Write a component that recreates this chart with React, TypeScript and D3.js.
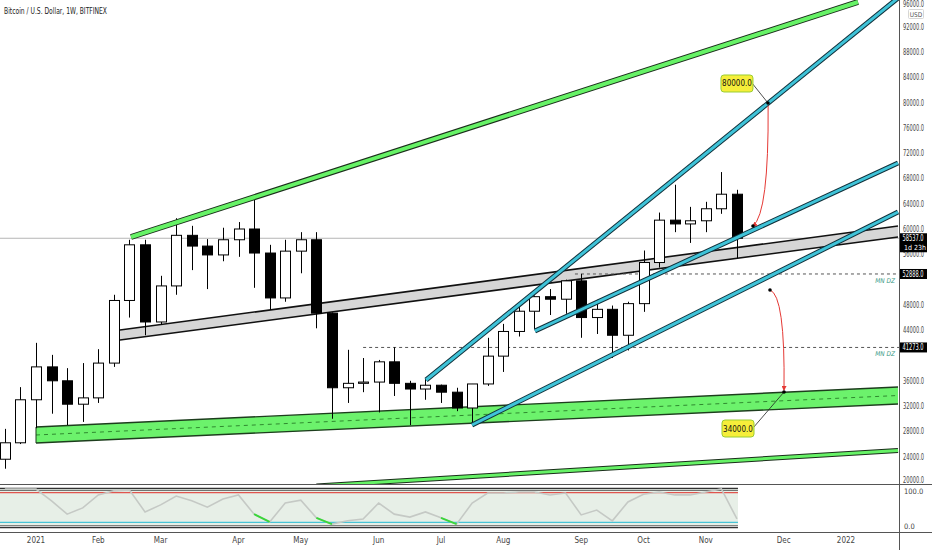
import React from 'react';
import * as d3 from 'd3';

const W = 932;
const H = 550;
const FONT = "'Liberation Sans Narrow','DejaVu Sans Condensed','Roboto Condensed',Arial,sans-serif";

// weekly bars, index 0 = week of 2021-01-04
const weekIdx = d3.range(-2, 46);
const opens = [23600, 26200, 33000, 38200, 36000, 32300, 33300, 38800, 48700, 57500, 45300, 51000, 59000, 57300, 55900, 58300, 60000, 56200, 49100, 56500, 58300, 46700, 34900, 35600, 35800, 39000, 35600, 34700, 35300, 34200, 31700, 35500, 39900, 43800, 47000, 49300, 48900, 51800, 46000, 47300, 43200, 48200, 54700, 61400, 60800, 61300, 63200, 65500];
const highs = [28400, 35000, 42000, 40100, 38000, 38800, 41000, 49600, 58300, 58300, 52600, 61700, 60500, 58400, 60200, 61100, 64700, 57500, 58300, 59500, 59500, 46800, 40900, 39600, 39300, 41300, 36000, 36400, 35400, 34900, 35500, 42800, 45000, 48100, 49500, 50500, 52000, 52900, 48800, 47900, 48500, 56600, 62600, 67000, 63500, 64300, 69000, 66200];
const lows = [22100, 26000, 28500, 30800, 29000, 29500, 32500, 38200, 46000, 43200, 44900, 49600, 53500, 50500, 54900, 55600, 50700, 47200, 48500, 53000, 44300, 30000, 32500, 34200, 31000, 33600, 29000, 33000, 32500, 31200, 29300, 35200, 37400, 43000, 44200, 46400, 46600, 42800, 43400, 39600, 40800, 46900, 53900, 59500, 57800, 59500, 62400, 55400];
const closes = [26200, 33000, 38200, 36000, 32300, 33300, 38800, 48700, 57500, 45300, 51000, 59000, 57300, 55900, 58300, 60000, 56200, 49100, 56500, 58300, 46700, 34900, 35600, 35800, 39000, 35600, 34700, 35300, 34200, 31700, 35500, 39900, 43800, 47000, 49300, 48900, 51800, 46000, 47300, 43200, 48200, 54700, 61400, 60800, 61300, 63200, 65500, 58537];

// oscillator (0-100) per weekly bar
const oscValues = [100, 100, 100, 68, 32, 49, 84, 95, 97, 38, 57, 81, 68, 51, 73, 84, 32, 11, 62, 70, 22, 5, 14, 19, 62, 32, 24, 38, 22, 5, 62, 89, 89, 92, 92, 84, 89, 30, 43, 14, 65, 86, 92, 84, 84, 92, 100, 19];
const oscGreenSegments = [[14, 15], [18, 19], [26, 27]];
const oscUpper = 90;
const oscLower = 10;

const monthLabels = ['2021', 'Feb', 'Mar', 'Apr', 'May', 'Jun', 'Jul', 'Aug', 'Sep', 'Oct', 'Nov', 'Dec', '2022'];
const monthIdx = [0, 4, 8, 13, 17, 22, 26, 30, 35, 39, 43, 48, 52];
const priceTicks = d3.range(20000, 96001, 4000);

// drawings in (bar index, price)
const grayBandTop = [[5.39, 44032], [55.34, 60474]];
const grayBandBottom = [[5.39, 42451], [55.34, 58735]];
const greenBandTop = [[0, 28696], [55.34, 35020]];
const greenBandBottom = [[0, 26166], [55.34, 32332]];
const greenTopLine = [[6.1, 58735], [52.77, 95889]];
const greenLowLine = [[18, 19368], [55.34, 24980]];
const cyanLines = [
  [[25.04, 36126], [55.34, 96522]],
  [[32.03, 43874], [55.34, 70435]],
  [[27.99, 29012], [55.34, 62688]],
];
const zoneLevels = [52888, 41273];
const zoneStart = [34.6, 21];
const lastPrice = 58537;
const callouts = [
  { label: '80000.0', i: 46.99, p: 79921 },
  { label: '34000.0', i: 48.02, p: 34229 },
];
const arrows = [
  { from: [47.0, 79500], ctrl: [47.05, 62500], to: [46.03, 60474] },
  { from: [47.12, 50356], ctrl: [48.1, 49500], to: [48.02, 34545] },
];

export default function App() {
  const x = d3.scaleLinear().domain([0, 52]).range([36, 846]);
  const y = d3.scaleLinear().domain([20000, 96000]).range([482, 1.3]);
  const yo = d3.scaleLinear().domain([0, 100]).range([526, 489]);
  const bw = 10;
  const axisX = 899;
  const oscEnd = x(45) + 1;

  const seg = (pts: number[][]) => ({ x1: x(pts[0][0]), y1: y(pts[0][1]), x2: x(pts[1][0]), y2: y(pts[1][1]) });
  const band = (top: number[][], bot: number[][]) =>
    `M${x(top[0][0])},${y(top[0][1])}L${x(top[1][0])},${y(top[1][1])}L${x(bot[1][0])},${y(bot[1][1])}L${x(bot[0][0])},${y(bot[0][1])}Z`;

  const oscLine = d3.line<number>().x((_, k) => x(weekIdx[k])).y((v) => yo(v));

  const gT = seg(grayBandTop), gB = seg(grayBandBottom);
  const eT = seg(greenBandTop), eB = seg(greenBandBottom);

  const boxLevels = [lastPrice, ...zoneLevels];
  const visibleTicks = priceTicks.filter((p) => boxLevels.every((b) => Math.abs(y(p) - y(b)) > 9 || (b === lastPrice && y(p) < y(b) - 7)));

  const tickY = (p: number) => {
    const v = y(p) + 3;
    return Math.min(Math.max(v, 7), 483);
  };

  return (
    <svg width={W} height={H} style={{ position: 'absolute', left: 0, top: 0, background: '#fff' }} fontFamily={FONT}>
      <defs>
        <clipPath id="main"><rect x={0} y={0} width={axisX} height={484} /></clipPath>
        <marker id="ah" viewBox="0 0 10 10" refX="8" refY="5" markerWidth="5" markerHeight="5" orient="auto">
          <path d="M0,0L10,5L0,10Z" fill="#e53935" />
        </marker>
      </defs>
      <rect width={W} height={H} fill="#fff" />
      <text x={4} y={14} fontSize={9} fill="#222" textLength={103} lengthAdjust="spacingAndGlyphs">Bitcoin / U.S. Dollar, 1W, BITFINEX</text>

      <g clipPath="url(#main)">
        <line x1={0} x2={axisX} y1={y(lastPrice)} y2={y(lastPrice)} stroke="#b5b5b5" strokeWidth={1} />
        <path d={band(grayBandTop, grayBandBottom)} fill="#d6d6d6" />
        <line {...gT} stroke="#111" strokeWidth={1.6} />
        <line {...gB} stroke="#111" strokeWidth={1.6} />
        <path d={band(greenBandTop, greenBandBottom)} fill="#6cf26c" />
        <line {...eT} stroke="#1d3d1d" strokeWidth={1.4} />
        <line {...eB} stroke="#1d3d1d" strokeWidth={1.4} />
        <line x1={(eT.x1 + eB.x1) / 2} y1={(eT.y1 + eB.y1) / 2} x2={(eT.x2 + eB.x2) / 2} y2={(eT.y2 + eB.y2) / 2} stroke="#2f8a2f" strokeWidth={1} strokeDasharray="4,4" />
        <line x1={eT.x1} y1={eT.y1} x2={eB.x1} y2={eB.y1} stroke="#1d3d1d" strokeWidth={1} />

        {zoneLevels.map((lv, k) => (
          <g key={lv}>
            <line x1={x(zoneStart[k])} x2={axisX} y1={y(lv)} y2={y(lv)} stroke="#555" strokeWidth={1} strokeDasharray="3,3" />
            <text x={895} y={y(lv) + 9} fontSize={6.5} fill="#3d9a86" textAnchor="end" fontStyle="italic">MN DZ</text>
          </g>
        ))}

        {weekIdx.map((w, k) => {
          const o = opens[k], c = closes[k];
          const up = c >= o;
          const cx = Math.round(x(w)) + 0.5;
          const top = y(Math.max(o, c)), bot = y(Math.min(o, c));
          return (
            <g key={w}>
              <line x1={cx} x2={cx} y1={y(highs[k])} y2={y(lows[k])} stroke="#000" strokeWidth={1} />
              <rect x={cx - bw / 2} y={top} width={bw} height={Math.max(1, bot - top)} fill={up ? '#fff' : '#000'} stroke="#000" strokeWidth={1} />
            </g>
          );
        })}

        {[greenTopLine, greenLowLine].map((l, k) => (
          <g key={'g' + k}>
            <line {...seg(l)} stroke="#1a2e1a" strokeWidth={k === 0 ? 6 : 5} />
            <line {...seg(l)} stroke="#66f266" strokeWidth={k === 0 ? 4 : 3} />
          </g>
        ))}
        {cyanLines.map((l, k) => (
          <g key={'c' + k}>
            <line {...seg(l)} stroke="#10303a" strokeWidth={5} />
            <line {...seg(l)} stroke="#3fc3d8" strokeWidth={3} />
          </g>
        ))}

        {arrows.map((a, k) => (
          <path key={'a' + k} d={`M${x(a.from[0])},${y(a.from[1])}Q${x(a.ctrl[0])},${y(a.ctrl[1])} ${x(a.to[0])},${y(a.to[1])}`} fill="none" stroke="#e53935" strokeWidth={1} markerEnd="url(#ah)" />
        ))}
        <circle cx={x(arrows[0].to[0])} cy={y(arrows[0].to[1])} r={1.8} fill="#000" />
        <circle cx={x(arrows[1].from[0])} cy={y(arrows[1].from[1])} r={1.8} fill="#000" />

        {callouts.map((c, k) => {
          const ax = x(c.i), ay = y(c.p);
          const bx = k === 0 ? ax - 47 : ax - 62;
          const by = k === 0 ? ay - 28 : ay + 28;
          return (
            <g key={c.label}>
              <line x1={bx + 31} y1={by + 8} x2={ax} y2={ay} stroke="#222" strokeWidth={0.8} />
              <circle cx={ax} cy={ay} r={1.8} fill="#000" />
              <rect x={bx} y={by} width={32} height={17} rx={3} fill="#f6ee3a" stroke="#9acd32" strokeWidth={1} />
              <text x={bx + 16} y={by + 11.5} fontSize={8} textAnchor="middle" fill="#111">{c.label}</text>
            </g>
          );
        })}
      </g>

      <line x1={0} x2={W} y1={484.5} y2={484.5} stroke="#555" strokeWidth={1} />
      <line x1={0} x2={W} y1={532.5} y2={532.5} stroke="#555" strokeWidth={1} />
      <line x1={axisX + 0.5} x2={axisX + 0.5} y1={0} y2={H} stroke="#555" strokeWidth={1} />

      <rect x={0} y={yo(100)} width={oscEnd} height={yo(0) - yo(100)} fill="#e7efe7" />
      <line x1={0} x2={oscEnd} y1={488.3} y2={488.3} stroke="#333" strokeWidth={1.2} />
      <line x1={0} x2={oscEnd} y1={490.3} y2={490.3} stroke="#555" strokeWidth={1} />
      <line x1={0} x2={oscEnd} y1={525.8} y2={525.8} stroke="#555" strokeWidth={1} />
      <line x1={0} x2={oscEnd} y1={527.6} y2={527.6} stroke="#333" strokeWidth={1.2} />
      <line x1={0} x2={oscEnd} y1={yo(oscUpper)} y2={yo(oscUpper)} stroke="#e0554f" strokeWidth={1.3} />
      <line x1={0} x2={oscEnd} y1={yo(oscLower)} y2={yo(oscLower)} stroke="#47c3d6" strokeWidth={1.3} />
      <path d={oscLine(oscValues) || ''} fill="none" stroke="#c5c9c5" strokeWidth={1.6} />
      {oscGreenSegments.map(([a, b]) => (
        <line key={a} x1={x(a)} y1={yo(oscValues[a + 2])} x2={x(b)} y2={yo(oscValues[b + 2])} stroke="#3ad63a" strokeWidth={1.8} />
      ))}

      {visibleTicks.map((p) => (
        <text key={p} x={903} y={tickY(p)} fontSize={8} fill="#444" textLength={21} lengthAdjust="spacingAndGlyphs">{p.toFixed(1)}</text>
      ))}
      <rect x={908.5} y={9.5} width={15} height={9} fill="#fff" stroke="#ccc" strokeWidth={0.8} rx={1} />
      <text x={916} y={16.5} fontSize={6.5} fill="#555" textAnchor="middle">USD</text>

      <rect x={900} y={y(lastPrice) - 5} width={27} height={19} fill="#000" />
      <text x={902.5} y={y(lastPrice) + 3} fontSize={8} fill="#fff" textLength={21} lengthAdjust="spacingAndGlyphs">{lastPrice.toFixed(1)}</text>
      <text x={904} y={y(lastPrice) + 11.5} fontSize={7} fill="#fff">1d 23h</text>
      {zoneLevels.map((lv) => (
        <g key={'z' + lv}>
          <rect x={900} y={y(lv) - 5} width={27} height={10} fill="#000" />
          <text x={902.5} y={y(lv) + 3} fontSize={8} fill="#fff" textLength={21} lengthAdjust="spacingAndGlyphs">{lv.toFixed(1)}</text>
        </g>
      ))}

      <text x={904} y={yo(100) + 4.5} fontSize={7.5} fill="#444">100.0</text>
      <text x={904} y={yo(0) + 3} fontSize={7.5} fill="#444">0.0</text>

      {monthLabels.map((m, k) => (
        <text key={m} x={x(monthIdx[k])} y={543} fontSize={8} fill="#444" textAnchor="middle">{m}</text>
      ))}
    </svg>
  );
}
